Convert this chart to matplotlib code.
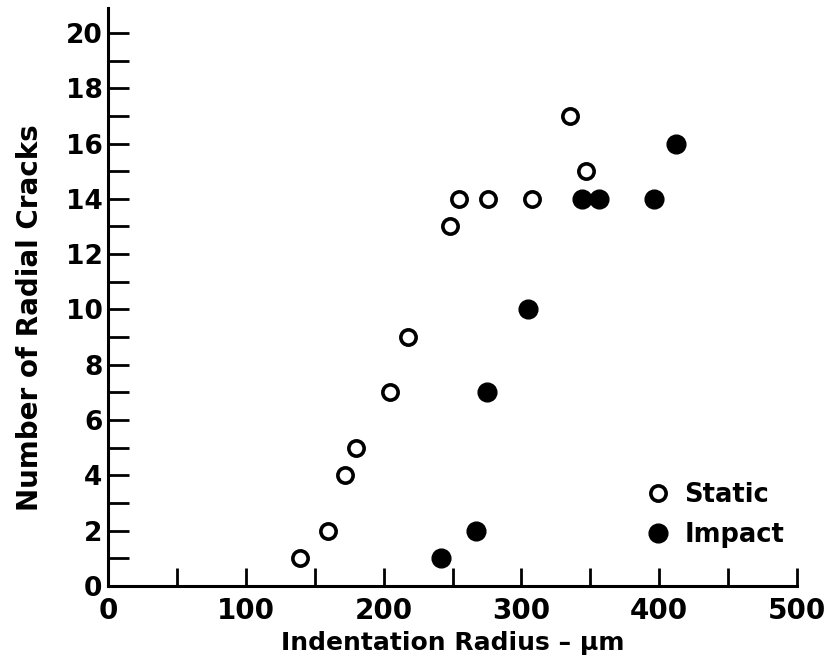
import matplotlib
matplotlib.use('Agg')
import matplotlib.pyplot as plt
from matplotlib.ticker import MultipleLocator

# 数据
static_radius = [139, 160, 172, 180, 205, 218, 248, 255, 276, 308, 335, 347]
static_cracks = [1, 2, 4, 5, 7, 9, 13, 14, 14, 14, 17, 15]
impact_radius = [242, 267, 275, 305, 344, 356, 396, 412]
impact_cracks = [1, 2, 7, 10, 14, 14, 14, 16]

plt.rcParams['font.family'] = ['DejaVu Sans']
plt.rcParams['font.weight'] = 'bold'

fig = plt.figure(figsize=(8.36, 6.71), dpi=100)
ax = fig.add_axes([108 / 836, 85 / 671, 689 / 836, 578 / 671])

ax.plot(static_radius, static_cracks, 'o', ls='none', mfc='white', mec='black',
        mew=2.6, ms=11, label='Static')
ax.plot(impact_radius, impact_cracks, 'o', ls='none', mfc='black', mec='black',
        ms=13.5, label='Impact')

ax.set_xlim(0, 500)
ax.set_ylim(0, 20.9)
ax.spines['top'].set_visible(False)
ax.spines['right'].set_visible(False)
for s in ['left', 'bottom']:
    ax.spines[s].set_linewidth(2.2)

ax.xaxis.set_major_locator(MultipleLocator(100))
ax.xaxis.set_minor_locator(MultipleLocator(50))
ax.yaxis.set_major_locator(MultipleLocator(2))
ax.yaxis.set_minor_locator(MultipleLocator(1))
ax.tick_params(axis='x', which='both', direction='in', length=13, width=2, pad=8, labelsize=20)
ax.tick_params(axis='y', which='both', direction='in', length=15, width=2, pad=4, labelsize=19)

ax.set_xlabel('Indentation Radius – μm', fontsize=18, fontweight='bold', labelpad=4)
ax.set_ylabel('Number of Radial Cracks', fontsize=20, fontweight='bold')
ax.yaxis.set_label_coords(-0.093, 0.465)

leg = ax.legend(loc='upper left', bbox_to_anchor=(0.784, 0.18), frameon=False,
                fontsize=18.5, handlelength=0.8, handletextpad=0.6, labelspacing=0.55,
                borderpad=0, borderaxespad=0)
for t in leg.get_texts():
    t.set_fontweight('bold')

fig.savefig('out.png', dpi=100)
